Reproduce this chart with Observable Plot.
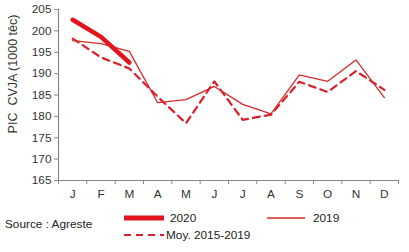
<!DOCTYPE html>
<html><head><meta charset="utf-8">
<script src="https://cdn.jsdelivr.net/npm/d3@7"></script>
<script src="https://cdn.jsdelivr.net/npm/@observablehq/plot@0.6"></script>
<style>
body{margin:0;background:#fff;font-family:"Liberation Sans",Arial,sans-serif;}
#wrap{position:relative;width:409px;height:252px;}
#legend{position:absolute;left:0;top:204px;width:409px;height:48px;font-size:11.8px;color:#222;}
.it{position:absolute;display:flex;align-items:center;}
</style></head>
<body><div id="wrap"><div id="chart"></div><div id="legend"></div></div>
<script>
const months = ["J","F","M","A","M","J","J","A","S","O","N","D"];
const monthIndex = [1,2,3,4,5,6,7,8,9,10,11,12];
const v2020 = [202.6, 198.6, 192.6];
const v2019 = [197.7, 197.0, 195.2, 183.2, 183.9, 187.0, 182.8, 180.6, 189.7, 188.2, 193.2, 184.4];
const vAvg = [198.2, 193.8, 191.2, 184.6, 178.4, 188.2, 179.2, 180.4, 188.1, 185.7, 190.6, 186.2];
const yTicks = [165,170,175,180,185,190,195,200,205];
const xBounds = [0.5,1.5,2.5,3.5,4.5,5.5,6.5,7.5,8.5,9.5,10.5,11.5,12.5];

const red = "#e3141c";
const red19 = "#d42a2a";
const redAvg = "#d8202a";

const d2020 = v2020.map((v,i)=>({m:monthIndex[i], v}));
const d2019 = v2019.map((v,i)=>({m:monthIndex[i], v}));
const dAvg = vAvg.map((v,i)=>({m:monthIndex[i], v}));

const chart = Plot.plot({
  width: 409, height: 200,
  marginLeft: 58, marginRight: 11, marginTop: 9, marginBottom: 20,
  style: {fontFamily: '"Liberation Sans", Arial, sans-serif', fontSize: "11.5px", color: "#333"},
  x: {domain: [0.5, 12.5], axis: null},
  y: {domain: [165, 205], axis: null},
  marks: [
    Plot.axisY({ticks: yTicks, tickSize: 4, tickPadding: 3, stroke: "#888", label: null, fontSize: 11.8, fill: "#333"}),
    Plot.text(["PIC  CVJA (1000 têc)"], {frameAnchor: "left", textAnchor: "middle", rotate: -90, dx: -46, dy: -21, fontSize: 12.5, fill: "#333"}),
    Plot.axisX({ticks: xBounds, tickSize: 4, tickFormat: () => "", stroke: "#888", label: null}),
    Plot.axisX({ticks: monthIndex, tickSize: 0, tickPadding: 9, tickFormat: d => months[d-1], fontSize: 11.8, fill: "#333", label: null}),
    Plot.ruleX([0.5], {stroke: "#888", strokeWidth: 1.2}),
    Plot.ruleY([165], {stroke: "#888", strokeWidth: 1.2}),
    Plot.line(dAvg, {x: "m", y: "v", stroke: redAvg, strokeWidth: 2.2, strokeDasharray: "7,5"}),
    Plot.line(d2019, {x: "m", y: "v", stroke: red19, strokeWidth: 1.3}),
    Plot.line(d2020, {x: "m", y: "v", stroke: red, strokeWidth: 4.5, strokeLinecap: "round"})
  ]
});
document.getElementById("chart").appendChild(chart);

const legend = document.getElementById("legend");
legend.innerHTML = `
<div class="it" style="left:5px;top:13px;">Source : Agreste</div>
<div class="it" style="left:123px;top:7px;"><svg width="42" height="10"><line x1="1" y1="5" x2="41" y2="5" stroke="${red}" stroke-width="5"/></svg><span style="margin-left:5px">2020</span></div>
<div class="it" style="left:267px;top:7px;"><svg width="40" height="10"><line x1="0" y1="5" x2="38" y2="5" stroke="${red19}" stroke-width="1.3"/></svg><span style="margin-left:6px">2019</span></div>
<div class="it" style="left:123px;top:24px;"><svg width="42" height="10"><line x1="1" y1="5" x2="41" y2="5" stroke="${redAvg}" stroke-width="2.2" stroke-dasharray="7,5"/></svg><span style="margin-left:1px">Moy. 2015-2019</span></div>
`;
</script></body></html>
